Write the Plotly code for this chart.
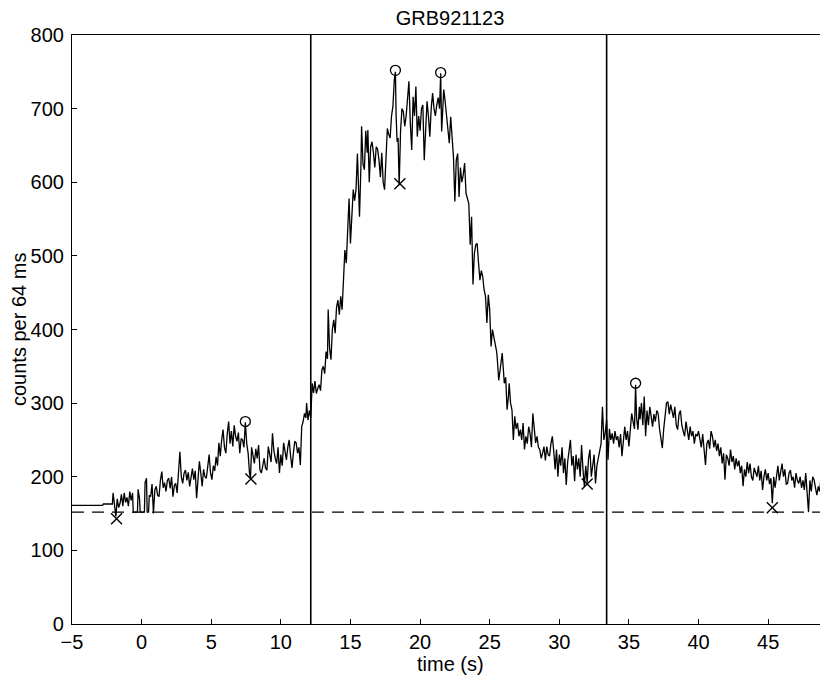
import plotly.graph_objects as go

# ---- data (time in s, counts per 64 ms) ----
pre_burst = [(-5.0, 161), (-2.8, 161), (-2.75, 163), (-2.1, 163),
             (-2.05, 178), (-1.95, 160), (-1.85, 146), (-1.75, 170), (-1.65, 158),
             (-1.55, 164), (-1.45, 176), (-1.35, 160), (-1.25, 178), (-1.15, 165),
             (-1.05, 172), (-0.95, 160), (-0.85, 180), (-0.75, 168), (-0.65, 178),
             (-0.6, 152), (-0.3, 152), (-0.25, 183), (-0.15, 170), (-0.1, 152),
             (0.2, 152), (0.25, 192), (0.35, 198), (0.4, 152), (0.5, 152),
             (0.55, 175), (0.65, 173), (0.75, 190), (0.85, 150), (0.95, 182),
             (1.05, 187), (1.15, 175), (1.25, 173), (1.35, 195), (1.45, 207),
             (1.55, 185), (1.65, 192), (1.75, 180), (1.85, 195), (1.95, 198),
             (2.05, 184), (2.15, 200), (2.25, 173), (2.35, 188), (2.45, 191),
             (2.55, 178), (2.65, 205), (2.75, 234), (2.85, 200), (2.95, 191)]

precursor = [(3.05, 205), (3.15, 209), (3.25, 195), (3.35, 206), (3.45, 187),
             (3.55, 200), (3.65, 211), (3.75, 196), (3.85, 208), (3.95, 171),
             (4.05, 200), (4.15, 221), (4.25, 205), (4.35, 187), (4.45, 210),
             (4.55, 200), (4.65, 198), (4.75, 215), (4.85, 230), (4.95, 205),
             (5.05, 196), (5.15, 215), (5.25, 208), (5.35, 227), (5.45, 215),
             (5.55, 246), (5.65, 228), (5.75, 250), (5.85, 264), (5.95, 240),
             (6.05, 232), (6.15, 258), (6.25, 275), (6.35, 245), (6.45, 262),
             (6.55, 241), (6.65, 270), (6.75, 255), (6.85, 248), (6.95, 260),
             (7.05, 232), (7.15, 252), (7.25, 250), (7.35, 240), (7.45, 274),
             (7.55, 245), (7.65, 232), (7.75, 205), (7.82, 198), (7.9, 240),
             (8.0, 228), (8.1, 218), (8.2, 238), (8.3, 225), (8.4, 243),
             (8.5, 209), (8.6, 205), (8.7, 218), (8.8, 225), (8.9, 212),
             (9.0, 209), (9.1, 241), (9.2, 232), (9.3, 220), (9.4, 259),
             (9.5, 235), (9.6, 225), (9.7, 218), (9.8, 240), (9.9, 205),
             (10.0, 230), (10.1, 215), (10.2, 246), (10.3, 235), (10.4, 223),
             (10.5, 240), (10.6, 250), (10.7, 228), (10.8, 212), (10.9, 232),
             (11.0, 248), (11.1, 246), (11.2, 232), (11.3, 240), (11.4, 216),
             (11.5, 268), (11.6, 275), (11.7, 286), (11.8, 280), (11.85, 300),
             (11.95, 277), (12.05, 290), (12.15, 280)]

main_pulse = [(12.25, 327), (12.35, 314), (12.45, 330), (12.55, 313), (12.65, 320),
              (12.75, 325), (12.85, 317), (12.95, 345), (13.05, 350), (13.15, 340),
              (13.25, 370), (13.35, 360), (13.4, 427), (13.5, 375), (13.6, 359),
              (13.7, 400), (13.8, 413), (13.9, 395), (14.0, 430), (14.1, 440),
              (14.2, 420), (14.3, 445), (14.4, 427), (14.5, 460), (14.6, 508),
              (14.7, 490), (14.8, 526), (14.9, 578), (15.0, 517), (15.1, 560),
              (15.2, 590), (15.3, 575), (15.4, 590), (15.5, 639), (15.55, 600),
              (15.65, 553), (15.75, 620), (15.8, 676), (15.9, 625), (16.0, 617),
              (16.1, 670), (16.2, 640), (16.25, 671), (16.35, 600), (16.45, 648),
              (16.55, 655), (16.65, 640), (16.75, 620), (16.85, 648), (16.95, 645),
              (17.05, 630), (17.15, 607), (17.25, 640), (17.35, 600), (17.45, 590),
              (17.55, 640), (17.65, 673), (17.75, 665), (17.85, 660), (17.95, 690),
              (18.05, 703), (18.15, 739), (18.23, 750), (18.28, 690), (18.35, 655),
              (18.42, 660), (18.5, 596), (18.6, 670), (18.7, 700), (18.8, 696),
              (18.9, 676), (19.0, 690), (19.1, 710), (19.2, 737), (19.3, 680),
              (19.4, 644), (19.5, 716), (19.6, 690), (19.7, 730), (19.8, 662),
              (19.9, 690), (20.0, 670), (20.1, 700), (20.2, 705), (20.3, 630),
              (20.4, 680), (20.5, 710), (20.6, 690), (20.7, 662), (20.8, 700),
              (20.9, 721), (21.0, 700), (21.1, 690), (21.2, 705), (21.3, 715),
              (21.4, 700), (21.48, 748), (21.55, 669), (21.65, 700), (21.7, 726),
              (21.8, 710), (21.9, 689), (22.0, 670), (22.1, 653), (22.2, 689),
              (22.3, 660), (22.4, 634), (22.5, 574), (22.6, 630), (22.7, 639),
              (22.8, 580), (22.9, 620), (23.0, 600), (23.1, 610), (23.2, 626)]

decay = [(23.3, 585), (23.4, 576), (23.5, 571), (23.6, 515), (23.7, 553),
         (23.8, 461), (23.9, 503), (24.0, 515), (24.1, 517), (24.2, 490),
         (24.3, 467), (24.4, 480), (24.5, 472), (24.6, 454), (24.7, 445),
         (24.8, 409), (24.9, 447), (25.0, 427), (25.1, 377), (25.2, 400),
         (25.3, 390), (25.4, 381), (25.5, 370), (25.55, 359), (25.65, 331),
         (25.75, 345), (25.8, 353), (25.9, 368), (26.0, 341), (26.05, 327),
         (26.15, 335), (26.25, 291), (26.35, 310), (26.4, 327), (26.5, 300),
         (26.6, 291), (26.7, 250), (26.8, 282), (26.9, 265), (27.0, 273),
         (27.1, 255), (27.2, 264), (27.3, 250), (27.4, 273), (27.5, 237),
         (27.6, 255), (27.7, 245), (27.8, 268), (27.9, 259), (28.0, 240),
         (28.1, 286), (28.2, 260), (28.3, 246), (28.4, 255), (28.5, 240),
         (28.6, 237), (28.7, 225), (28.8, 232), (28.9, 241), (29.0, 222),
         (29.1, 241), (29.2, 230), (29.3, 228), (29.4, 245), (29.5, 255),
         (29.6, 235), (29.7, 210), (29.8, 237), (29.9, 200), (30.0, 230),
         (30.1, 215), (30.2, 240), (30.3, 205), (30.4, 225), (30.5, 189),
         (30.6, 220), (30.7, 235), (30.8, 250), (30.9, 215), (31.0, 228),
         (31.1, 194), (31.2, 230), (31.3, 210), (31.4, 225), (31.5, 200),
         (31.6, 243), (31.7, 210), (31.8, 187), (31.9, 215), (32.0, 192),
         (32.1, 225), (32.2, 237), (32.3, 200), (32.4, 220), (32.5, 230),
         (32.6, 191), (32.7, 215), (32.8, 225), (32.9, 237), (33.0, 245)]

second_pulse = [(33.1, 295), (33.2, 250), (33.3, 260), (33.4, 277), (33.5, 223),
                (33.6, 265), (33.7, 250), (33.8, 259), (33.9, 245), (34.0, 262),
                (34.1, 250), (34.2, 255), (34.3, 240), (34.4, 258), (34.5, 228),
                (34.6, 255), (34.7, 268), (34.8, 250), (34.9, 262), (35.0, 241),
                (35.1, 270), (35.2, 286), (35.3, 275), (35.4, 265), (35.48, 325),
                (35.55, 280), (35.65, 264), (35.75, 295), (35.8, 278), (35.9, 300),
                (36.0, 270), (36.1, 309), (36.2, 255), (36.3, 290), (36.4, 270),
                (36.5, 295), (36.6, 282), (36.7, 268), (36.8, 285), (36.9, 275),
                (37.0, 290), (37.1, 286), (37.2, 265), (37.3, 250), (37.4, 239),
                (37.5, 265), (37.6, 280), (37.7, 300), (37.8, 302), (37.9, 285),
                (38.0, 298), (38.1, 290), (38.2, 280), (38.3, 295), (38.4, 270),
                (38.5, 264), (38.6, 285), (38.7, 290), (38.8, 270), (38.9, 262),
                (39.0, 255), (39.1, 275), (39.2, 260), (39.3, 250), (39.4, 268),
                (39.5, 255), (39.6, 262), (39.7, 245), (39.8, 258), (39.9, 255),
                (40.0, 262), (40.1, 250), (40.2, 240), (40.3, 258), (40.4, 230),
                (40.5, 216), (40.6, 245), (40.7, 250), (40.8, 238), (40.9, 262),
                (41.0, 255), (41.1, 240), (41.2, 250), (41.3, 235), (41.4, 245),
                (41.5, 228), (41.6, 240), (41.7, 218), (41.8, 232), (41.9, 196)]

tail = [(42.0, 230), (42.1, 225), (42.2, 215), (42.3, 237), (42.4, 220),
        (42.5, 228), (42.6, 210), (42.7, 225), (42.8, 214), (42.9, 222),
        (43.0, 205), (43.1, 215), (43.2, 187), (43.3, 210), (43.4, 200),
        (43.5, 220), (43.6, 205), (43.7, 218), (43.8, 200), (43.9, 195),
        (44.0, 212), (44.1, 205), (44.2, 200), (44.3, 215), (44.4, 195),
        (44.5, 208), (44.6, 182), (44.7, 200), (44.8, 210), (44.9, 195),
        (45.0, 205), (45.1, 190), (45.2, 198), (45.3, 164), (45.4, 200),
        (45.5, 185), (45.6, 200), (45.7, 215), (45.8, 195), (45.9, 205),
        (46.0, 218), (46.1, 200), (46.2, 210), (46.3, 190), (46.4, 191),
        (46.5, 205), (46.6, 209), (46.7, 195), (46.8, 200), (46.9, 185),
        (47.0, 205), (47.1, 195), (47.2, 191), (47.3, 200), (47.4, 185),
        (47.5, 195), (47.6, 182), (47.7, 205), (47.8, 175), (47.9, 152),
        (48.0, 195), (48.1, 180), (48.2, 200), (48.3, 196), (48.4, 185),
        (48.5, 175), (48.6, 187), (48.7, 180), (48.8, 200), (48.9, 152),
        (49.0, 180), (49.1, 205), (49.2, 190), (49.3, 152), (49.4, 175),
        (49.5, 170)]

peak_t = [7.45, 18.23, 21.48, 35.48]
peak_v = [275, 752, 749, 327]
valley_t = [-1.8, 7.85, 18.55, 32.0, 45.3]
valley_v = [143, 197, 598, 190, 158]
window_t = [12.15, 33.4]
background_level = 152

x_range = [-5, 49.3]
y_range = [0, 800]
x_ticks = [-5, 0, 5, 10, 15, 20, 25, 30, 35, 40, 45]
y_ticks = [0, 100, 200, 300, 400, 500, 600, 700, 800]

# ---- build figure ----
segments = [pre_burst, precursor, main_pulse, decay, second_pulse, tail]
t_all, c_all = [], []
for seg in segments:
    for t, c in seg:
        t_all.append(t)
        c_all.append(c)

FONT = "Liberation Sans, Arial, Helvetica, sans-serif"
FS = 20
# the page body adds an 8 px margin; the figure is sized to fit the window
W, H = 820, 672
ML, MT, MB = 64, 27, 56
PW = W - ML
PH = H - MT - MB

fig = go.Figure()

fig.add_trace(go.Scatter(x=t_all, y=c_all, mode="lines",
                         line=dict(color="black", width=1.3),
                         showlegend=False, hoverinfo="skip"))

fig.add_trace(go.Scatter(x=x_range, y=[background_level, background_level], mode="lines",
                         line=dict(color="black", width=1.1, dash="12px,8px"),
                         showlegend=False, hoverinfo="skip"))

for wt in window_t:
    fig.add_trace(go.Scatter(x=[wt, wt], y=y_range, mode="lines",
                             line=dict(color="black", width=1.6),
                             showlegend=False, hoverinfo="skip"))

fig.add_trace(go.Scatter(x=peak_t, y=peak_v, mode="markers",
                         marker=dict(symbol="circle-open", size=10, color="black",
                                     line=dict(width=1.3, color="black")),
                         showlegend=False, hoverinfo="skip"))

fig.add_trace(go.Scatter(x=valley_t, y=valley_v, mode="markers",
                         marker=dict(symbol="x-thin-open", size=11, color="black",
                                     line=dict(width=1.4, color="black")),
                         showlegend=False, hoverinfo="skip"))

fig.update_layout(
    width=W, height=H,
    margin=dict(l=ML, r=0, t=MT, b=MB, pad=0),
    paper_bgcolor="white", plot_bgcolor="white",
    font=dict(family=FONT, size=FS, color="black"),
    title=dict(text="GRB921123", x=442 / W, xref="container", xanchor="center",
               y=1 - 10 / H, yref="container", yanchor="middle",
               font=dict(family=FONT, size=FS, color="black")),
    annotations=[
        dict(text="time (s)", xref="paper", yref="paper", x=(442 - ML) / PW, y=0,
             xanchor="center", yanchor="middle", yshift=-40, showarrow=False,
             font=dict(family=FONT, size=FS, color="black")),
        dict(text="counts per 64 ms", xref="paper", yref="paper", x=0, y=(PH - 295) / PH,
             xanchor="center", yanchor="middle", xshift=-53, textangle=-90, showarrow=False,
             font=dict(family=FONT, size=FS, color="black")),
    ],
)

fig.update_xaxes(range=x_range, tickvals=x_ticks,
                 ticktext=[str(v).replace("-", "\u2212") for v in x_ticks],
                 showgrid=False, zeroline=False, automargin=False,
                 showline=True, linecolor="black", linewidth=1.2, mirror=True,
                 ticks="inside", ticklen=5, tickwidth=1.2, tickcolor="black",
                 ticklabelstandoff=0,
                 tickfont=dict(family=FONT, size=FS))

fig.update_yaxes(range=y_range, tickvals=y_ticks,
                 showgrid=False, zeroline=False, automargin=False,
                 showline=True, linecolor="black", linewidth=1.2, mirror=False,
                 ticks="inside", ticklen=5, tickwidth=1.2, tickcolor="black",
                 ticklabelstandoff=3,
                 tickfont=dict(family=FONT, size=FS))

fig.write_html("out.html")
